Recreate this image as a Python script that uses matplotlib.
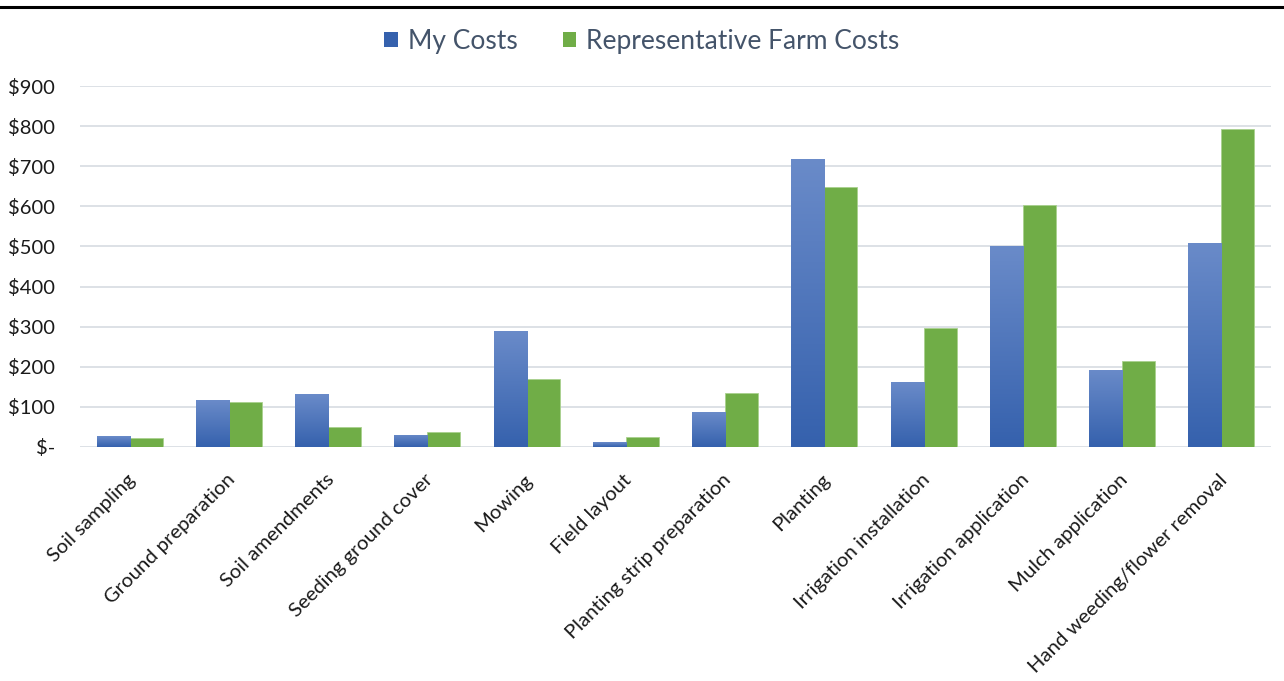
"""
Cost comparison bar chart: my costs vs representative farm costs.
"""

import numpy as np
import matplotlib.pyplot as plt
from matplotlib.patches import Patch
from matplotlib.lines import Line2D
from matplotlib.colors import LinearSegmentedColormap
import matplotlib.ticker as ticker

CATEGORIES = [
    "Soil sampling", "Ground preparation", "Soil amendments",
    "Seeding ground cover", "Mowing", "Field layout",
    "Planting strip preparation", "Planting", "Irrigation installation",
    "Irrigation application", "Mulch application", "Hand weeding/flower removal",
]
MY_COSTS = [27, 117, 131, 30, 289, 12, 87, 718, 162, 501, 192, 509]
REP_COSTS = [23, 112, 50, 38, 170, 24, 135, 647, 297, 603, 214, 792]
SERIES = ["My Costs", "Representative Farm Costs"]
Y_TICKS = [0, 100, 200, 300, 400, 500, 600, 700, 800, 900]

BLUE_TOP = "#6a8bc9"
BLUE_BOT = "#3561ad"
GREEN = "#70ad47"
GRID = "#dde1e6"
LEGEND_TXT = "#44546a"

plt.rcParams["font.family"] = ["Lato", "DejaVu Sans"]

W, H = 1284, 681
fig = plt.figure(figsize=(W / 100, H / 100), dpi=100)
ax = fig.add_axes([80 / W, 1 - 447 / H, (1271 - 80) / W, (447 - 86) / H])

x = np.arange(len(CATEGORIES))
bw = 0.333

blue_bars = ax.bar(x - bw / 2, MY_COSTS, bw, color=BLUE_BOT,
                   edgecolor="#8ea9db", linewidth=0.6, zorder=3)
ax.bar(x + bw / 2, REP_COSTS, bw, color=GREEN,
       edgecolor="#a9d18e", linewidth=0.6, zorder=3)

# vertical gradient on the blue bars (lighter at top)
cmap = LinearSegmentedColormap.from_list("bl", [BLUE_BOT, BLUE_TOP])
grad = np.linspace(0, 1, 256).reshape(-1, 1)
for bar in blue_bars:
    x0, y0 = bar.get_x(), bar.get_y()
    im = ax.imshow(grad, cmap=cmap, aspect="auto", origin="lower",
                   extent=[x0, x0 + bar.get_width(), y0, y0 + bar.get_height()],
                   zorder=3.5)
    im.set_clip_path(bar)

ax.set_xlim(-0.5, len(CATEGORIES) - 0.5)
ax.set_ylim(0, 900)
ax.set_yticks(Y_TICKS)
ax.yaxis.set_major_formatter(ticker.FuncFormatter(
    lambda v, p: "$-" if v == 0 else f"${v:,.0f}"))
ax.grid(axis="y", color=GRID, linewidth=1.4, zorder=0)
ax.set_axisbelow(True)
for s in ax.spines.values():
    s.set_visible(False)
ax.tick_params(axis="y", length=0, pad=18, labelsize=14.5, labelcolor="#1a1a1a")
ax.tick_params(axis="x", length=0)

ax.set_xticks(x)
ax.set_xticklabels([])
for xi, label in zip(x, CATEGORIES):
    ax.annotate(label, xy=(xi, 0), xycoords="data",
                xytext=(3, -30), textcoords="offset pixels",
                rotation=45, ha="right", va="center", rotation_mode="anchor",
                fontsize=14.6, color="#1a1a1a")

handles = [Patch(facecolor=BLUE_BOT, edgecolor="none"),
           Patch(facecolor=GREEN, edgecolor="none")]
fig.legend(handles, SERIES, loc="center", bbox_to_anchor=(0.5, 1 - 41 / H),
           ncol=2, frameon=False, fontsize=19, labelcolor=LEGEND_TXT,
           handlelength=0.5, handleheight=0.5, handletextpad=0.4,
           columnspacing=1.7)

# black rule across the top of the figure
fig.add_artist(Line2D([0, 1], [1 - 6.5 / H, 1 - 6.5 / H],
                      transform=fig.transFigure, color="black", linewidth=2.2))

fig.savefig("out.png", dpi=100)
